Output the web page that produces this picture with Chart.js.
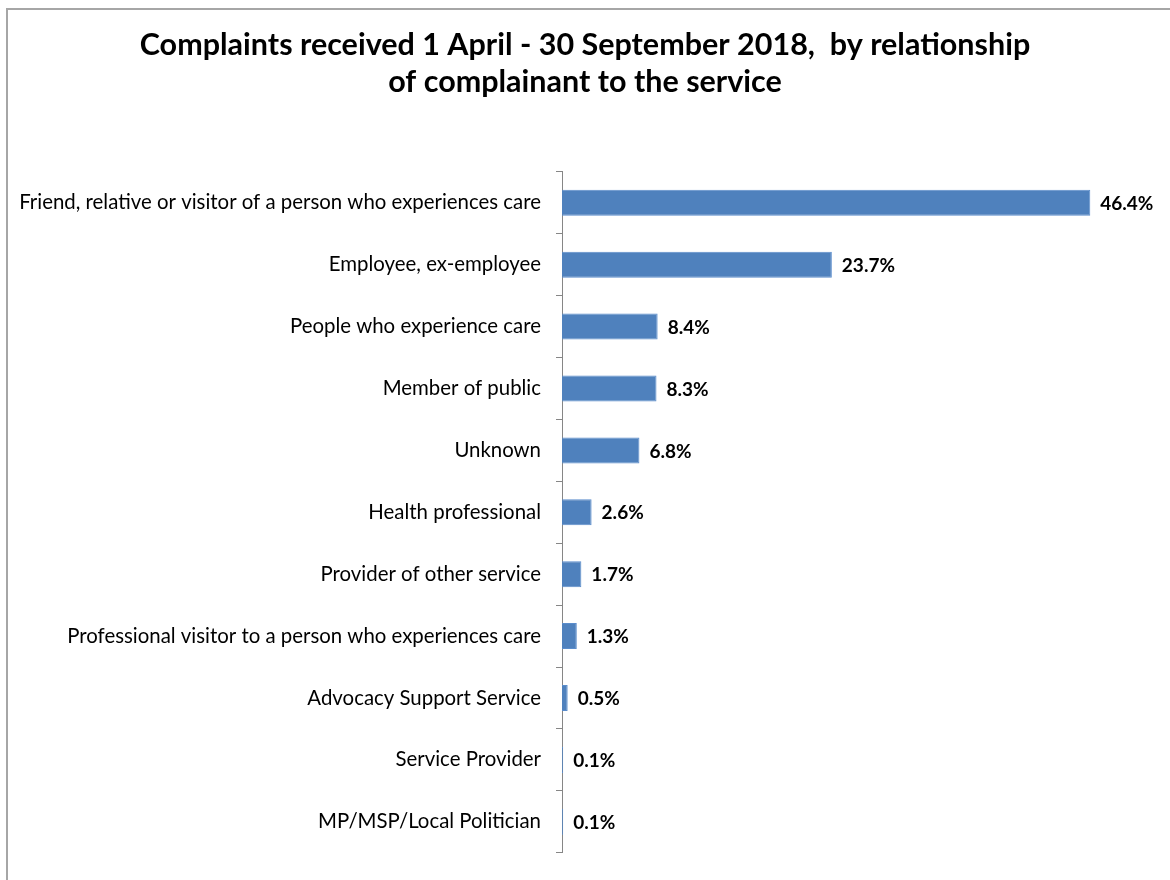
<!DOCTYPE html>
<html>
<head>
<meta charset="utf-8">
<script src="https://cdn.jsdelivr.net/npm/chart.js@4.4.0/dist/chart.umd.min.js"></script>
<style>
  body { margin: 0; background: #fff; overflow: hidden; }
  #frame { position: absolute; left: 6px; top: 8px; width: 1200px; height: 900px;
           border-left: 2px solid #a6a6a6; border-top: 2px solid #a6a6a6; }
  #wrap { position: absolute; left: 0; top: 0; width: 1170px; height: 880px; }
</style>
</head>
<body>
<div id="frame"></div>
<div id="wrap"><canvas id="myChart" width="1170" height="880"></canvas></div>
<script>
var categories = [
  "Friend, relative or visitor of a person who experiences care",
  "Employee, ex-employee",
  "People who experience care",
  "Member of public",
  "Unknown",
  "Health professional",
  "Provider of other service",
  "Professional visitor to a person who experiences care",
  "Advocacy Support Service",
  "Service Provider",
  "MP/MSP/Local Politician"
];
var percentData = [46.4, 23.7, 8.4, 8.3, 6.8, 2.6, 1.7, 1.3, 0.5, 0.1, 0.1];

var fontName = "Lato, 'Liberation Sans', sans-serif";

// etiquetas de valor al final de cada barra
const valueLabels = {
  id: "valueLabels",
  afterDatasetsDraw(chart) {
    const ctx = chart.ctx;
    const meta = chart.getDatasetMeta(0);
    ctx.save();
    ctx.font = "bold 19px " + fontName;
    ctx.fillStyle = "#000";
    ctx.textAlign = "left";
    ctx.textBaseline = "middle";
    meta.data.forEach((bar, i) => {
      ctx.fillText(percentData[i].toFixed(1) + "%", bar.x + 10, bar.y + 1);
    });
    ctx.restore();
  }
};

const config = {
  type: "bar",
  data: {
    labels: categories,
    datasets: [{
      data: percentData,
      backgroundColor: "#4f81bd",
      borderColor: "#5b8dcc",
      borderWidth: 1,
      categoryPercentage: 1,
      barPercentage: 0.42
    }]
  },
  options: {
    indexAxis: "y",
    responsive: false,
    animation: false,
    layout: { padding: { left: 0, right: 0, top: 0, bottom: 16 } },
    plugins: {
      legend: { display: false },
      tooltip: { enabled: false },
      title: {
        display: true,
        text: ["Complaints received 1 April - 30 September 2018,  by relationship",
               "of complainant to the service"],
        color: "#000",
        font: { family: fontName, size: 30.5, weight: "bold", lineHeight: 1.21 },
        padding: { top: 27, bottom: 71 }
      }
    },
    scales: {
      x: { display: false, min: 0, max: 53.4 },
      y: {
        afterFit(scale) { scale.width = 562; },
        border: { display: true, color: "#868686", width: 1 },
        grid: { drawOnChartArea: false, drawTicks: true, tickLength: 6, color: "#868686", offset: true },
        ticks: { color: "#000", padding: 15, font: { family: fontName, size: 20.4 } }
      }
    }
  },
  plugins: [valueLabels]
};

new Chart(document.getElementById("myChart"), config);
</script>
</body>
</html>
